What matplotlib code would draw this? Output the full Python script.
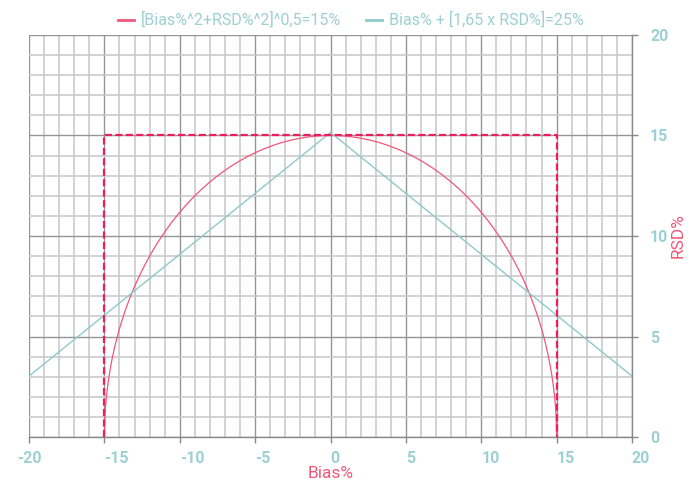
import numpy as np
import matplotlib
matplotlib.use("Agg")
import matplotlib.pyplot as plt
from matplotlib.ticker import MultipleLocator

plt.rcParams["font.family"] = ["Roboto", "DejaVu Sans"]

# acceptance criteria (values as written in the legend)
total_error_limit = 15      # [Bias%^2+RSD%^2]^0,5 = 15%
bias_rsd_limit = 25         # Bias% + [1,65 x RSD%] = 25%
coverage_factor = 1.65
box_bias = [-15, -15, 15, 15]
box_rsd = [0, 15, 15, 0]

x_ticks = [-20, -15, -10, -5, 0, 5, 10, 15, 20]
y_ticks = [0, 5, 10, 15, 20]

PINK = "#f0577a"
PINK_DASH = "#ee1d5c"
TEAL = "#8ec9cc"
TICK = "#9dd0d4"
GRID_MINOR = "#cbcbcb"
GRID_MAJOR = "#959595"

fig = plt.figure(figsize=(6.91, 4.86), dpi=100)
ax = fig.add_axes([0.042, 0.1008, 0.8726, 0.8272])

# circle-shaped limit and the linear limit
b_circ = np.linspace(-total_error_limit, total_error_limit, 801)
rsd_circ = np.sqrt(np.clip(total_error_limit ** 2 - b_circ ** 2, 0, None))
b_lin = np.linspace(x_ticks[0], x_ticks[-1], 401)
rsd_lin = (bias_rsd_limit - np.abs(b_lin)) / coverage_factor

ax.plot(b_circ, rsd_circ, color=PINK, lw=0.9, zorder=3,
        label="[Bias%^2+RSD%^2]^0,5=15%")
ax.plot(b_lin, rsd_lin, color=TEAL, lw=1.0, zorder=3,
        label="Bias% + [1,65 x RSD%]=25%")
ax.plot(box_bias, box_rsd, color=PINK_DASH, lw=1.6, ls=(0, (3.2, 1.5)), zorder=4)

ax.set_xlim(x_ticks[0], x_ticks[-1])
ax.set_ylim(y_ticks[0], y_ticks[-1])

ax.xaxis.set_major_locator(MultipleLocator(5))
ax.xaxis.set_minor_locator(MultipleLocator(1))
ax.yaxis.set_major_locator(MultipleLocator(5))
ax.yaxis.set_minor_locator(MultipleLocator(1))
ax.grid(which="minor", color=GRID_MINOR, lw=1.2, zorder=0)
ax.grid(which="major", color=GRID_MAJOR, lw=1.0, zorder=1)
ax.set_axisbelow(True)

for side in ("left", "top"):
    ax.spines[side].set_visible(False)
for side in ("bottom", "right"):
    ax.spines[side].set_color("#888888")
    ax.spines[side].set_linewidth(1.0)

ax.yaxis.tick_right()
ax.yaxis.set_label_position("right")
ax.tick_params(which="minor", length=0)
ax.tick_params(which="major", length=4, width=1, color="#888888",
               labelcolor=TICK, labelsize=11.5, pad=6)

ax.set_xticks(x_ticks)
ax.set_xticklabels([str(v) for v in x_ticks], fontweight="bold")
for i, lab in enumerate(ax.get_xticklabels()):
    lab.set_ha("center" if i == 0 else "left")
ax.set_yticks(y_ticks)
ax.set_yticklabels([str(v) for v in y_ticks], fontweight="bold")
ax.tick_params(axis="y", pad=9)

ax.set_xlabel("Bias%", color=PINK, fontsize=12.5, labelpad=0)
ax.set_ylabel("RSD%", color=PINK, fontsize=12.5, labelpad=2)

leg = fig.legend(loc="upper center", bbox_to_anchor=(0.508, 1.005), ncol=2,
                 frameon=False, fontsize=11.5, handlelength=1.0,
                 handletextpad=0.4, columnspacing=1.6, labelcolor=TICK)
for h in leg.legend_handles:
    h.set_linewidth(2)

fig.savefig("out.png", dpi=100)
